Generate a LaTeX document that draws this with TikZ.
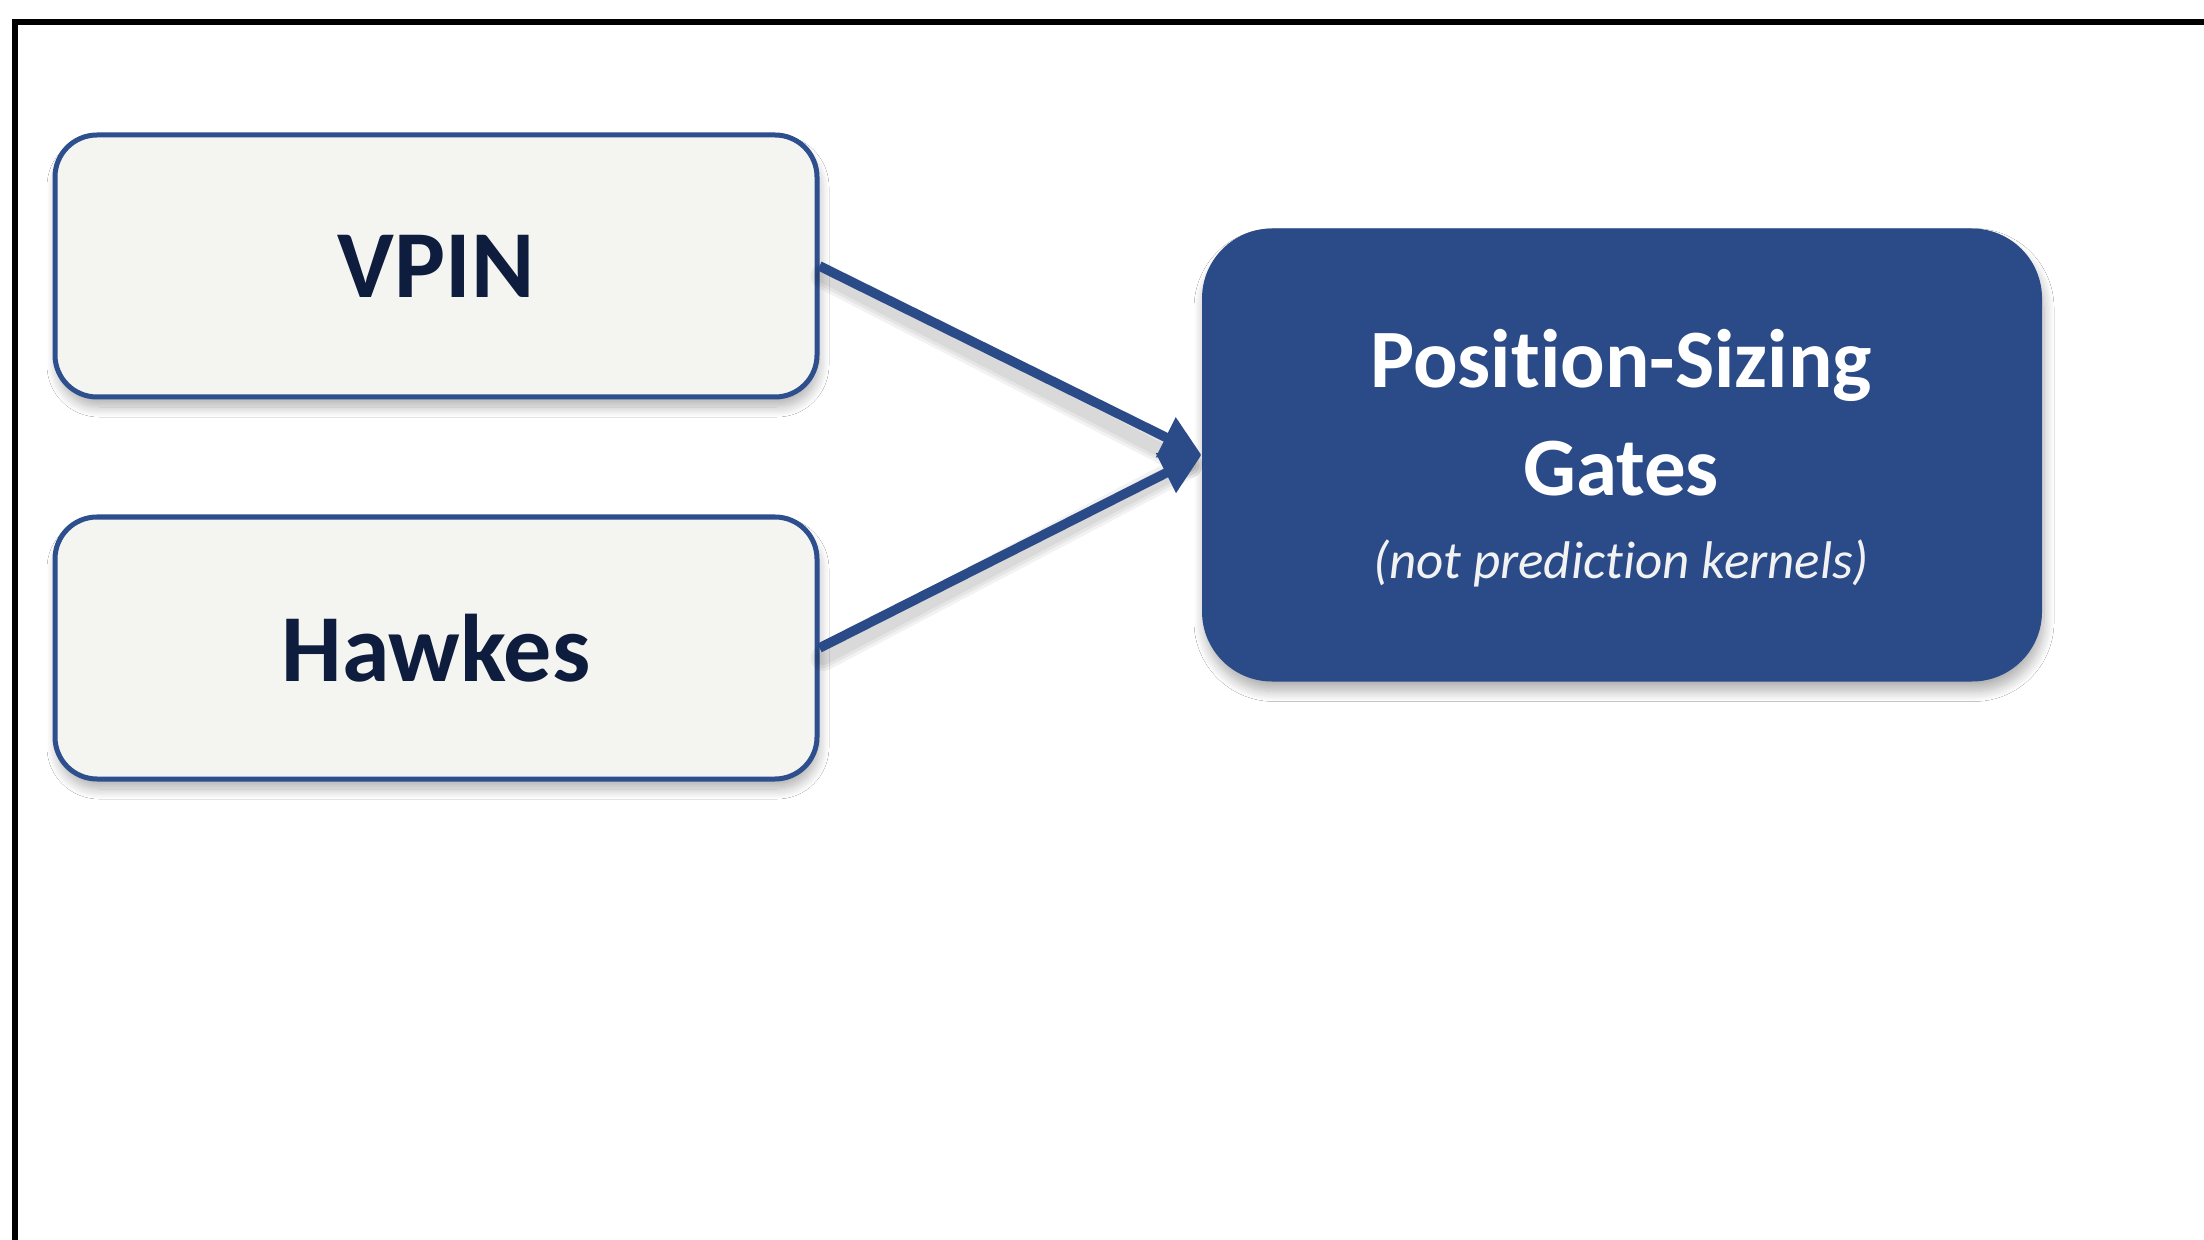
\documentclass[tikz,border=0pt]{standalone}
\usepackage{fontspec}
\setmainfont{Carlito}[Ligatures=NoCommon]
\usetikzlibrary{shadows.blur,arrows.meta}
\definecolor{boxblue}{RGB}{43,75,136}
\definecolor{lineblue}{RGB}{45,79,142}
\definecolor{boxfill}{RGB}{244,244,241}
\definecolor{navy}{RGB}{14,28,61}
\definecolor{subwhite}{RGB}{242,242,242}
\begin{document}
\begin{tikzpicture}[x=0.5pt,y=-0.5pt,
  softshadow/.style={blur shadow={shadow xshift=1pt,shadow yshift=-5pt,shadow blur radius=5pt,shadow blur steps=12,shadow opacity=30}},
  srcbox/.style={draw=lineblue,line width=2.5pt,fill=boxfill,rounded corners=21pt,
    minimum width=381pt,minimum height=131pt,inner sep=0pt,softshadow,
    font=\bfseries\fontsize{48}{58}\selectfont,text=navy},
  gatebox/.style={fill=boxblue,rounded corners=35pt,minimum width=420pt,minimum height=226.5pt,
    inner sep=0pt,softshadow},
  gtitle/.style={font=\bfseries\fontsize{41.5}{50}\selectfont,text=white,inner sep=0pt},
  gsub/.style={font=\itshape\fontsize{26.5}{32}\selectfont,text=subwhite,inner sep=0pt},
  conn/.style={draw=boxblue,line width=4.8pt,-{Triangle[length=20pt,width=21pt]}},
  connshadow/.style={draw=black,opacity=0.05,line cap=round},
  frame/.style={draw=black,line width=3.2pt}
]
\useasboundingbox (0,0) rectangle (2204,1240);
\clip (0,0) rectangle (2204,1240);
\fill[white] (0,0) rectangle (2204,1240);
\coordinate (fbot) at (15,1300);
\coordinate (fcorner) at (15,22);
\coordinate (fright) at (2260,22);
\draw[frame] (fbot) -- (fcorner) -- (fright);

\node[srcbox] (vpin) at (436,266) {VPIN};
\node[srcbox] (hawkes) at (436,648) {Hawkes};
\node[gatebox] (gates) at (1622,455) {};

\foreach \w in {13pt,10pt,7pt}{
  \draw[connshadow,line width=\w] ([shift={(2pt,-5pt)}]vpin.east) -- ([shift={(-6pt,-5pt)}]gates.west);
  \draw[connshadow,line width=\w] ([shift={(2pt,-5pt)}]hawkes.east) -- ([shift={(-6pt,-5pt)}]gates.west);
}
\draw[conn] (vpin.east) -- (gates.west);
\draw[conn] (hawkes.east) -- (gates.west);

\node[gtitle,anchor=base] (gl1) at (1621,388) {Position-Sizing};
\node[gtitle,anchor=base] (gl2) at (1621,495) {Gates};
\node[gsub,anchor=base] (gl3) at (1621,578) {(not prediction kernels)};
\end{tikzpicture}
\end{document}
